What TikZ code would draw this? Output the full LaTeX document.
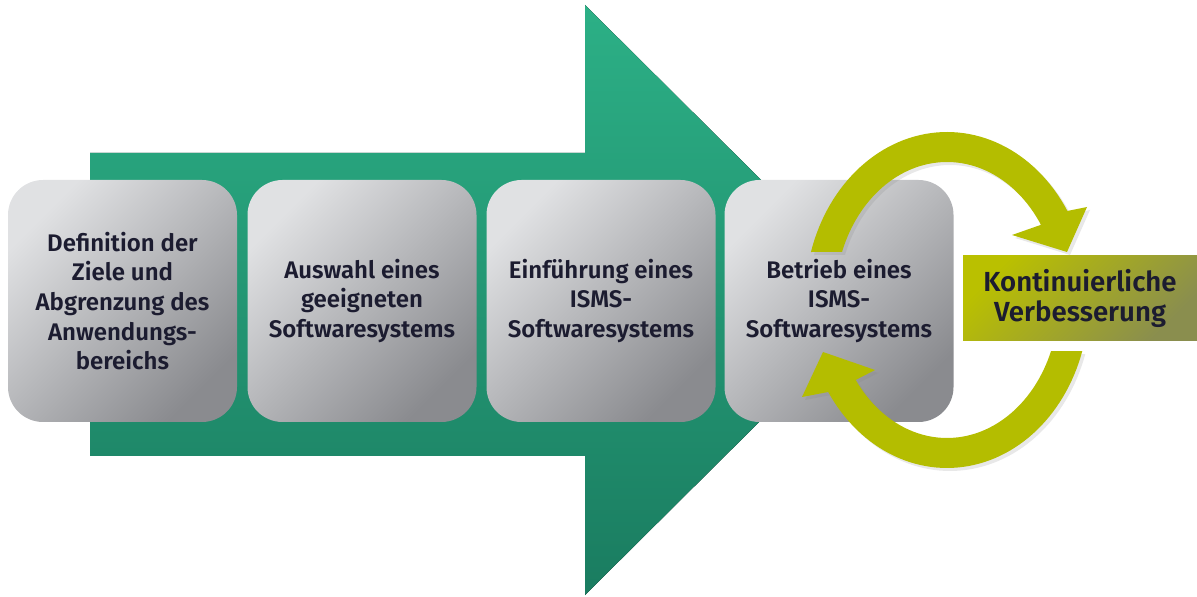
\documentclass[tikz,border=0pt]{standalone}
\usepackage{fontspec}
\setmainfont{Fira Sans}[BoldFont={Fira Sans SemiBold}]
\usetikzlibrary{shadows}
\definecolor{arrowtop}{RGB}{44,176,134}
\definecolor{arrowbot}{RGB}{26,124,96}
\definecolor{boxlight}{RGB}{224,225,227}
\definecolor{boxmid}{RGB}{210,211,213}
\definecolor{boxdark}{RGB}{138,139,143}
\definecolor{curvcol}{RGB}{180,189,0}
\definecolor{kvlight}{RGB}{186,192,0}
\definecolor{kvdark}{RGB}{138,142,78}
\definecolor{txtcol}{RGB}{28,28,48}
\begin{document}
\begin{tikzpicture}[x=0.5pt,y=-0.5pt,
  stepbox/.style={rounded corners=17.5pt, minimum width=114.5pt, minimum height=121pt,
    shading=axis, top color=boxlight, middle color=boxmid, bottom color=boxdark, shading angle=45,
    align=center, text=txtcol, font=\bfseries\fontsize{12}{14.8}\selectfont, inner sep=0pt},
  kvbox/.style={minimum width=117pt, minimum height=42.5pt,
    shading=axis, top color=kvlight, middle color=kvlight!88!kvdark, bottom color=kvdark, shading angle=45,
    align=center, text=txtcol, font=\bfseries\fontsize{13.8}{15.2}\selectfont, inner sep=0pt},
  curv/.style={fill=curvcol, drop shadow={opacity=0.18, shadow xshift=1.5pt, shadow yshift=-1.5pt}}]
\useasboundingbox (0,0) rectangle (1197,597);
% big green arrow
\fill[top color=arrowtop, bottom color=arrowbot]
  (90,153) -- (585,153) -- (585,5) -- (882,300) -- (585,595) -- (585,456) -- (90,456) -- cycle;
% step boxes
\node[stepbox] (b1) at (122.5,301) {Definition der\\Ziele und\\Abgrenzung des\\Anwendungs-\\bereichs};
\node[stepbox] (b2) at (362,301) {Auswahl eines\\geeigneten\\Softwaresystems};
\node[stepbox] (b3) at (601,301) {Einführung eines\\ISMS-\\Softwaresystems};
\node[stepbox] (b4) at (839,301) {Betrieb eines\\ISMS-\\Softwaresystems};
% improvement box
\node[kvbox] (kv) at (1080,298.5) {Kontinuierliche\\Verbesserung};
% top curved arrow
\fill[curv] plot[domain=196.6:328, samples=60] ({947+142*cos(\x)},{300+168*sin(\x)})
  -- (1087,207) -- (1067,252) -- (1012,235)
  -- plot[domain=327:200.4, samples=60] ({947+112*cos(\x)},{300+138*sin(\x)}) -- cycle;
% bottom curved arrow
\fill[curv] plot[domain=17.7:146.8, samples=60] ({947+142*cos(\x)},{300+168*sin(\x)})
  -- (802,397) -- (823,352) -- (875,370)
  -- plot[domain=144.6:21.7, samples=60] ({947+112*cos(\x)},{300+138*sin(\x)}) -- cycle;
\end{tikzpicture}
\end{document}
